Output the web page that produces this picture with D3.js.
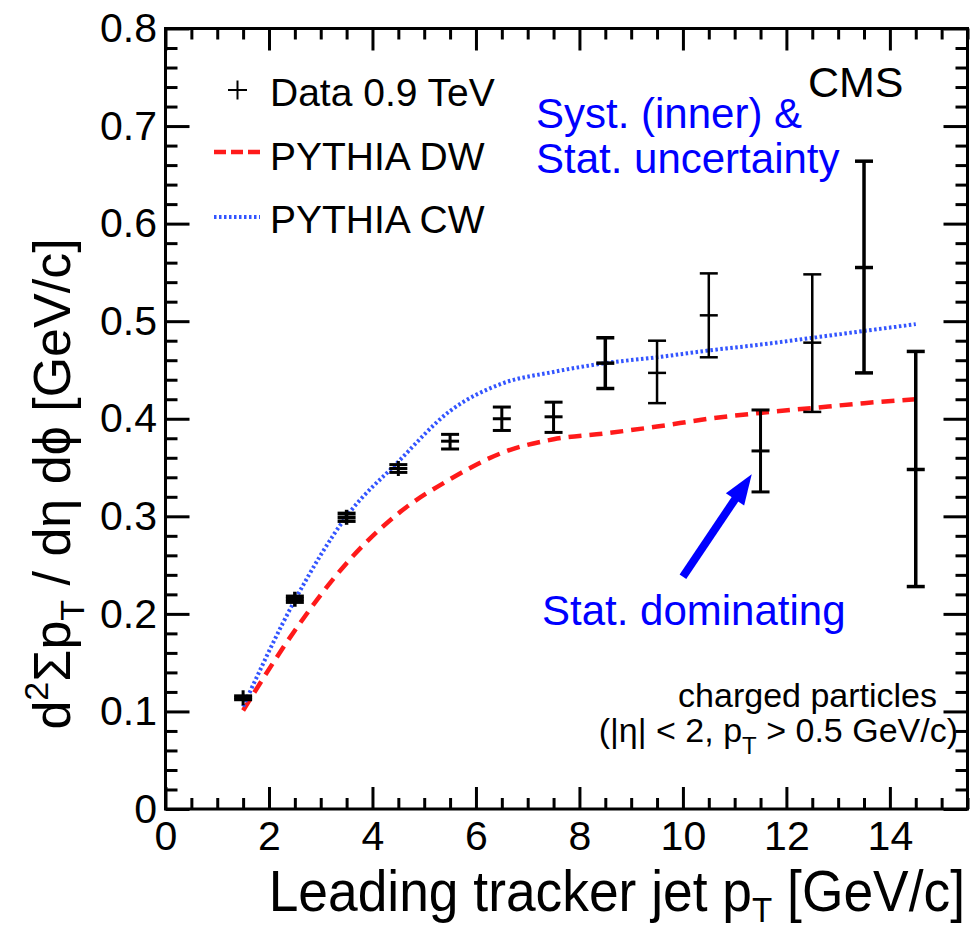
<!DOCTYPE html>
<html><head><meta charset="utf-8">
<script src="https://cdn.jsdelivr.net/npm/d3@7/dist/d3.min.js"></script>
<style>
html,body{margin:0;padding:0;background:#fff;}
svg{display:block;font-family:"Liberation Sans",Arial,Helvetica,sans-serif;}
</style></head>
<body><svg id="c" width="973" height="932"></svg>
<script>
// ---- data ----
const binCenters = [1.5,2.5,3.5,4.5,5.5,6.5,7.5,8.5,9.5,10.5,11.5,12.5,13.5,14.5];
const dataValues = [0.114,0.215,0.299,0.349,0.377,0.400,0.402,0.457,0.447,0.506,0.367,0.478,0.555,0.348];
const dataLow    = [0.112,0.212,0.295,0.345,0.369,0.388,0.386,0.431,0.416,0.463,0.325,0.407,0.447,0.228];
const dataHigh   = [0.116,0.218,0.303,0.353,0.384,0.412,0.417,0.483,0.480,0.549,0.409,0.548,0.664,0.469];
const pythiaCW   = [0.105,0.214,0.300,0.356,0.408,0.436,0.448,0.457,0.463,0.470,0.476,0.483,0.490,0.497];
const pythiaDW   = [0.101,0.183,0.252,0.303,0.338,0.365,0.379,0.385,0.392,0.400,0.406,0.411,0.416,0.420];
const xMajorTicks = [0,2,4,6,8,10,12,14];
const yMajorTicks = [0,0.1,0.2,0.3,0.4,0.5,0.6,0.7,0.8];
const yTickLabels = ["0","0.1","0.2","0.3","0.4","0.5","0.6","0.7","0.8"];
const legendLabels = ["Data 0.9 TeV","PYTHIA DW","PYTHIA CW"];
const arrowTail = [10.0, 0.238];
const arrowTip  = [11.33, 0.343];

// ---- layout ----
const svg = d3.select("#c");
const L = 165.5, R = 967.5, T = 28.5, B = 809;
const x = d3.scaleLinear().domain([0,15.5]).range([L,R]);
const y = d3.scaleLinear().domain([0,0.8]).range([B,T]);
const FONT = 41;

const xMinor = d3.range(0,15.5001,0.5).filter(v=>Math.abs(v/2-Math.round(v/2))>1e-6);
const yMinor = d3.range(0,0.8001,0.02).filter(v=>Math.abs(v*10-Math.round(v*10))>1e-6);

function styleAxis(g){
  g.selectAll("path.domain").remove();
  g.selectAll("line").attr("stroke","#000").attr("stroke-width",3);
  g.selectAll("text").attr("fill","#000").style("font-size",FONT+"px").style("font-family","'Liberation Sans',Arial,sans-serif");
}
// bottom
svg.append("g").attr("transform",`translate(0,${B})`)
  .call(d3.axisBottom(x).tickValues(xMajorTicks).tickFormat(d3.format("d")).tickSizeInner(-22).tickSizeOuter(0).tickPadding(12)).call(styleAxis);
svg.append("g").attr("transform",`translate(0,${B})`)
  .call(d3.axisBottom(x).tickValues(xMinor).tickFormat("").tickSizeInner(-11).tickSizeOuter(0)).call(styleAxis);
// top
svg.append("g").attr("transform",`translate(0,${T})`)
  .call(d3.axisTop(x).tickValues(xMajorTicks).tickFormat("").tickSizeInner(-22).tickSizeOuter(0)).call(styleAxis);
svg.append("g").attr("transform",`translate(0,${T})`)
  .call(d3.axisTop(x).tickValues(xMinor).tickFormat("").tickSizeInner(-11).tickSizeOuter(0)).call(styleAxis);
// left
svg.append("g").attr("transform",`translate(${L},0)`)
  .call(d3.axisLeft(y).tickValues(yMajorTicks).tickFormat((d,i)=>yTickLabels[i]).tickSizeInner(-24).tickSizeOuter(0).tickPadding(8.5)).call(styleAxis);
svg.append("g").attr("transform",`translate(${L},0)`)
  .call(d3.axisLeft(y).tickValues(yMinor).tickFormat("").tickSizeInner(-12).tickSizeOuter(0)).call(styleAxis);
// right
svg.append("g").attr("transform",`translate(${R},0)`)
  .call(d3.axisRight(y).tickValues(yMajorTicks).tickFormat("").tickSizeInner(-24).tickSizeOuter(0)).call(styleAxis);
svg.append("g").attr("transform",`translate(${R},0)`)
  .call(d3.axisRight(y).tickValues(yMinor).tickFormat("").tickSizeInner(-12).tickSizeOuter(0)).call(styleAxis);
// frame
svg.append("rect").attr("x",L).attr("y",T).attr("width",R-L).attr("height",B-T)
  .attr("fill","none").attr("stroke","#000").attr("stroke-width",3);

// ---- curves ----
const line = d3.line().x(d=>x(d[0])).y(d=>y(d[1])).curve(d3.curveMonotoneX);
svg.append("path").datum(binCenters.map((v,i)=>[v,pythiaDW[i]]))
  .attr("d",line).attr("fill","none").attr("stroke","#ff1a1a").attr("stroke-width",4.5).attr("stroke-dasharray","13,8");
svg.append("path").datum(binCenters.map((v,i)=>[v,pythiaCW[i]]))
  .attr("d",line).attr("fill","none").attr("stroke","#3355ff").attr("stroke-width",4).attr("stroke-dasharray","2.5,2.5");

// ---- data points ----
const lw = [3,3.5,3.5,3,3,3,3,3.5,2.5,2.5,3,2.5,3.5,3.5];
const capW = 9, markH = 7.5, markW = 9;
const pts = svg.append("g").attr("stroke","#000").attr("fill","none");
binCenters.forEach((xv,i)=>{
  const cx = x(xv), cy = y(dataValues[i]), yl = y(dataLow[i]), yh = y(dataHigh[i]);
  const g = pts.append("g").attr("stroke-width",lw[i]);
  g.append("line").attr("x1",cx).attr("x2",cx).attr("y1",Math.min(yh,cy-markH)).attr("y2",Math.max(yl,cy+markH));
  g.append("line").attr("x1",cx-capW).attr("x2",cx+capW).attr("y1",yh).attr("y2",yh);
  g.append("line").attr("x1",cx-capW).attr("x2",cx+capW).attr("y1",yl).attr("y2",yl);
  g.append("line").attr("x1",cx-markW).attr("x2",cx+markW).attr("y1",cy).attr("y2",cy);
});

// ---- legend ----
const lg = svg.append("g");
lg.append("line").attr("x1",228).attr("x2",247).attr("y1",90).attr("y2",90).attr("stroke","#000").attr("stroke-width",2);
lg.append("line").attr("x1",237.5).attr("x2",237.5).attr("y1",80.5).attr("y2",99.5).attr("stroke","#000").attr("stroke-width",2);
lg.append("line").attr("x1",214).attr("x2",260).attr("y1",152).attr("y2",152).attr("stroke","#ff1a1a").attr("stroke-width",4.5).attr("stroke-dasharray","12,5");
lg.append("line").attr("x1",214).attr("x2",260).attr("y1",217).attr("y2",217).attr("stroke","#3355ff").attr("stroke-width",4).attr("stroke-dasharray","2.5,2.5");
[106,170,233].forEach((by,i)=>{
  lg.append("text").attr("x",270).attr("y",by).attr("font-size",39).attr("fill","#000").text(legendLabels[i]);
});

// ---- annotations ----
svg.append("text").attr("x",808).attr("y",97).attr("font-size",43).attr("fill","#000").text("CMS");
svg.append("text").attr("x",536).attr("y",128).attr("font-size",42).attr("fill","#0000ff").text("Syst. (inner) &");
svg.append("text").attr("x",536).attr("y",173).attr("font-size",42).attr("fill","#0000ff").text("Stat. uncertainty");
svg.append("text").attr("x",542).attr("y",625).attr("font-size",42).attr("fill","#0000ff").text("Stat. dominating");

// arrow
{
  const x0 = x(arrowTail[0]), y0 = y(arrowTail[1]), x1 = x(arrowTip[0]), y1 = y(arrowTip[1]);
  const ang = Math.atan2(y1-y0, x1-x0);
  const headL = 30, headW = 11;
  const bx = x1 - headL*Math.cos(ang), by = y1 - headL*Math.sin(ang);
  svg.append("line").attr("x1",x0).attr("y1",y0).attr("x2",bx+4*Math.cos(ang)).attr("y2",by+4*Math.sin(ang))
    .attr("stroke","#0000ff").attr("stroke-width",8);
  const px = -Math.sin(ang), py = Math.cos(ang);
  svg.append("path").attr("d",`M${x1},${y1}L${bx+headW*px},${by+headW*py}L${bx-headW*px},${by-headW*py}Z`).attr("fill","#0000ff");
}

svg.append("text").attr("x",937).attr("y",707).attr("font-size",34).attr("text-anchor","end").attr("fill","#000").text("charged particles");
{
  const t = svg.append("text").attr("x",958).attr("y",742).attr("font-size",34).attr("text-anchor","end").attr("fill","#000");
  t.append("tspan").text("(|η| < 2, p");
  t.append("tspan").attr("font-size",24).attr("dy",12).text("T");
  t.append("tspan").attr("dy",-12).text(" > 0.5 GeV/c)");
}

// axis titles
{
  const t = svg.append("text").attr("transform","translate(965,911) scale(0.92,1)").attr("font-size",58).attr("text-anchor","end").attr("fill","#000");
  t.append("tspan").text("Leading tracker jet p");
  t.append("tspan").attr("font-size",36).attr("dy",11).text("T");
  t.append("tspan").attr("dy",-11).text(" [GeV/c]");
}
{
  const t = svg.append("text").attr("transform","translate(70,484) rotate(-90)").attr("font-size",52).attr("text-anchor","middle").attr("fill","#000");
  t.append("tspan").text("d");
  t.append("tspan").attr("font-size",34).attr("dy",-22).text("2");
  t.append("tspan").attr("dy",22).text("Σp");
  t.append("tspan").attr("font-size",34).attr("dy",14).text("T");
  t.append("tspan").attr("dy",-14).text(" / dη dϕ [GeV/c]");
}
</script></body></html>
